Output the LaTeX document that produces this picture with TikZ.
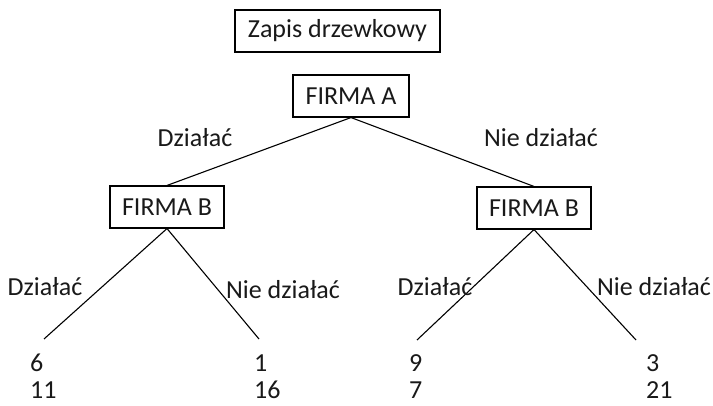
\documentclass[tikz,border=0pt]{standalone}
\usepackage{fontspec}
\setmainfont{Carlito}
\begin{document}
\begin{tikzpicture}[x=1pt,y=-1pt,
  every node/.style={font=\fontsize{26}{30}\selectfont, text=black!90},
  box/.style={draw, line width=1.1pt, minimum height=42pt, inner sep=0pt},
  branch/.style={line width=1.1pt},
  leaf/.style={anchor=base west, inner sep=0pt}]
\useasboundingbox (0,0) rectangle (713,406);

% header and decision nodes
\node[box, minimum width=205pt] (title) at (337.5,31) {Zapis drzewkowy};
\node[box, minimum width=116pt] (A) at (351,96) {FIRMA A};
\node[box, minimum width=114pt] (BL) at (167,207) {FIRMA B};
\node[box, minimum width=114pt] (BR) at (534,208) {FIRMA B};

% end points of the lower branches
\coordinate (L1) at (44,339);
\coordinate (L2) at (259,339);
\coordinate (L3) at (417,340);
\coordinate (L4) at (636,340);

% branches
\draw[branch] (A.south) -- (BL.north);
\draw[branch] (A.south) -- (BR.north);
\draw[branch] (BL.south) -- (L1);
\draw[branch] (BL.south) -- (L2);
\draw[branch] (BR.south) -- (L3);
\draw[branch] (BR.south) -- (L4);

% branch labels
\node (a1) at (195,138) {Działać};
\node (a2) at (541,138) {Nie działać};
\node (b1) at (45,287) {Działać};
\node (b2) at (283,290) {Nie działać};
\node (b3) at (435,287) {Działać};
\node (b4) at (654,287) {Nie działać};

% payoffs: first player on top, second player below
\node[leaf] (p1a) at (30,371) {6};
\node[leaf] (p1b) at (30,399) {11};
\node[leaf] (p2a) at (254,371) {1};
\node[leaf] (p2b) at (254,399) {16};
\node[leaf] (p3a) at (409,371) {9};
\node[leaf] (p3b) at (409,399) {7};
\node[leaf] (p4a) at (646,371) {3};
\node[leaf] (p4b) at (646,399) {21};
\end{tikzpicture}
\end{document}
